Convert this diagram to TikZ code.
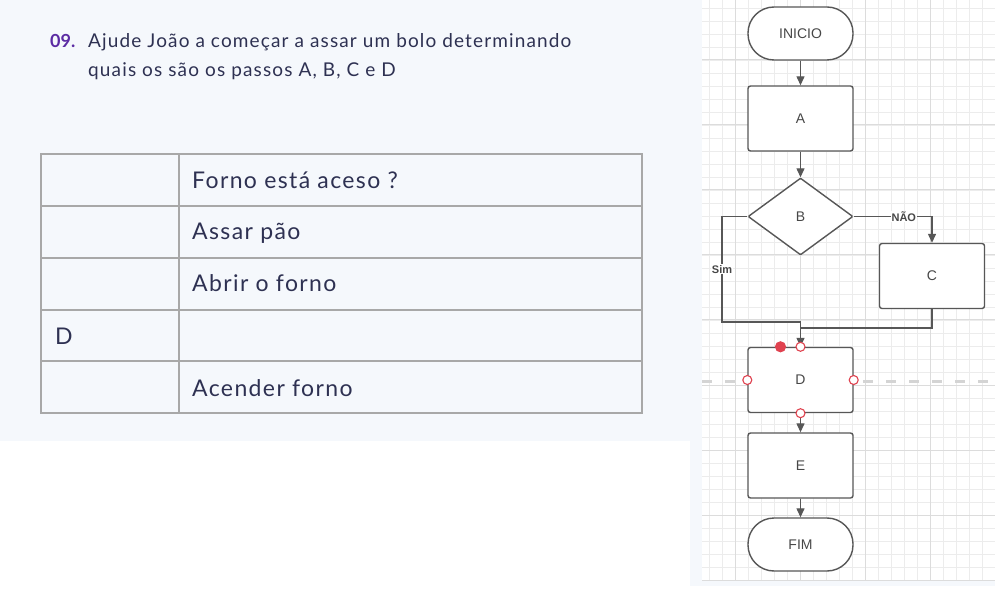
\documentclass[tikz,border=0pt]{standalone}
\usepackage{fontspec}
\setmainfont{Lato}
\newfontfamily\chartfont{Liberation Sans}
\newfontfamily\widefont[LetterSpace=6]{Lato}
\usetikzlibrary{shapes.geometric, arrows.meta, positioning}

\definecolor{pagebg}{HTML}{F5F8FC}
\definecolor{inktext}{HTML}{2E3152}
\definecolor{qpurple}{HTML}{5B2BA3}
\definecolor{tableline}{HTML}{A8A8A8}
\definecolor{gridminor}{HTML}{ECECEC}
\definecolor{gridmajor}{HTML}{DCDCDC}
\definecolor{chartline}{HTML}{575757}
\definecolor{pinred}{HTML}{E0424F}
\definecolor{guidegray}{HTML}{D4D4D4}

\begin{document}
\begin{tikzpicture}[x=1pt, y=-1pt, >={Triangle[length=9pt, width=8pt]},
    qtext/.style={anchor=base west, inner sep=0, text=inktext, font=\widefont\fontsize{19}{22}\selectfont},
    cell/.style={anchor=base west, inner sep=0, text=inktext, font=\widefont\fontsize{23}{26}\selectfont},
    box/.style={draw=chartline, line width=1.4pt, fill=white, rounded corners=2.5pt,
        minimum width=105pt, minimum height=65pt, inner sep=0,
        text=black!72, font=\chartfont\fontsize{14}{16}\selectfont},
    stadium/.style={box, minimum height=53pt, rounded corners=26pt},
    decision/.style={box, diamond, rounded corners=1pt, minimum width=105pt, minimum height=77pt},
    flow/.style={draw=chartline, line width=1.3pt},
    flowlabel/.style={fill=white, inner sep=1pt, text=black!72, font=\chartfont\bfseries\fontsize{11}{13}\selectfont},
    pin/.style={circle, draw=pinred, line width=1.1pt, fill=white, inner sep=0, minimum size=9pt},
    pinset/.style={pin, fill=pinred, minimum size=10pt}]

    \useasboundingbox (0,0) rectangle (995,601);

    % Background
    \fill[pagebg] (0,0) rectangle (995,441);
    \fill[pagebg] (690,441) rectangle (995,586);
    \fill[white] (702,0) rectangle (995,580);

    % Grid
    \foreach \k in {0,...,22}
        \draw[gridminor, line width=0.7pt] (709+13*\k,0) -- (709+13*\k,580);
    \foreach \k in {0,...,44}
        \draw[gridminor, line width=0.7pt] (702,8+13*\k) -- (995,8+13*\k);
    \foreach \gx in {735,800,865,930}
        \draw[gridmajor, line width=1pt] (\gx,0) -- (\gx,580);
    \foreach \gy in {60,125,190,255,320,385,450,515,580}
        \draw[gridmajor, line width=1pt] (702,\gy) -- (995,\gy);

    % Question
    \node[qtext, text=qpurple, font=\bfseries\fontsize{18}{22}\selectfont] (qnum) at (50,48) {09.};
    \node[qtext] (qline1) at (88,48) {Ajude João a começar a assar um bolo determinando};
    \node[qtext] (qline2) at (88,77) {quais os são os passos A, B, C e D};

    % Table
    \draw[tableline, line width=1.5pt] (41,154) rectangle (642,413);
    \foreach \ty in {206,258,310,361}
        \draw[tableline, line width=1.5pt] (41,\ty) -- (642,\ty);
    \draw[tableline, line width=1.5pt] (179,154) -- (179,413);
    \node[cell] (row1) at (192,189) {Forno está aceso ?};
    \node[cell] (row2) at (192,240) {Assar pão};
    \node[cell] (row3) at (192,292) {Abrir o forno};
    \node[cell] (row4) at (55,344) {D};
    \node[cell] (row5) at (192,396) {Acender forno};

    % Guide line behind D
    \coordinate (guideL) at (702,381);
    \coordinate (guideR) at (995,381);
    \draw[guidegray, line width=3pt, dash pattern=on 10pt off 13pt] (guideL) -- (guideR);

    % Flowchart
    \node[stadium] (inicio) at (800.5,33.5) {INICIO};
    \node[box] (A) at (800.5,118.5) {A};
    \node[decision] (B) at (800.5,216.5) {B};
    \node[box] (C) at (932,276) {C};
    \node[box] (D) at (800.5,380) {D};
    \node[box] (E) at (800.5,465.5) {E};
    \node[stadium] (fim) at (800.5,544.5) {FIM};

    \coordinate (simturn) at (722,322);
    \coordinate (simjoin) at (800.5,322);
    \coordinate (cjoin) at (800.5,328);

    % Connectors
    \draw[flow, ->] (inicio) -- (A);
    \draw[flow, ->] (A) -- (B);
    \draw[flow, ->] (B.east) -| node[flowlabel, pos=0.32] {NÃO} (C.north);
    \draw[flow] (B.west) -| node[flowlabel, pos=0.75] {Sim} (simturn) -- (simjoin);
    \draw[flow] (C.south) |- (cjoin);
    \draw[flow, ->] (simjoin) -- (D.north);
    \draw[flow, ->] (D) -- (E);
    \draw[flow, ->] (E) -- (fim);

    % Handles on D
    \node[pinset] (dgrab) at ([xshift=-20pt]D.north) {};
    \node[pin] (dn) at (D.north) {};
    \node[pin] (dw) at (D.west) {};
    \node[pin] (de) at (D.east) {};
    \node[pin] (ds) at (D.south) {};

\end{tikzpicture}
\end{document}
